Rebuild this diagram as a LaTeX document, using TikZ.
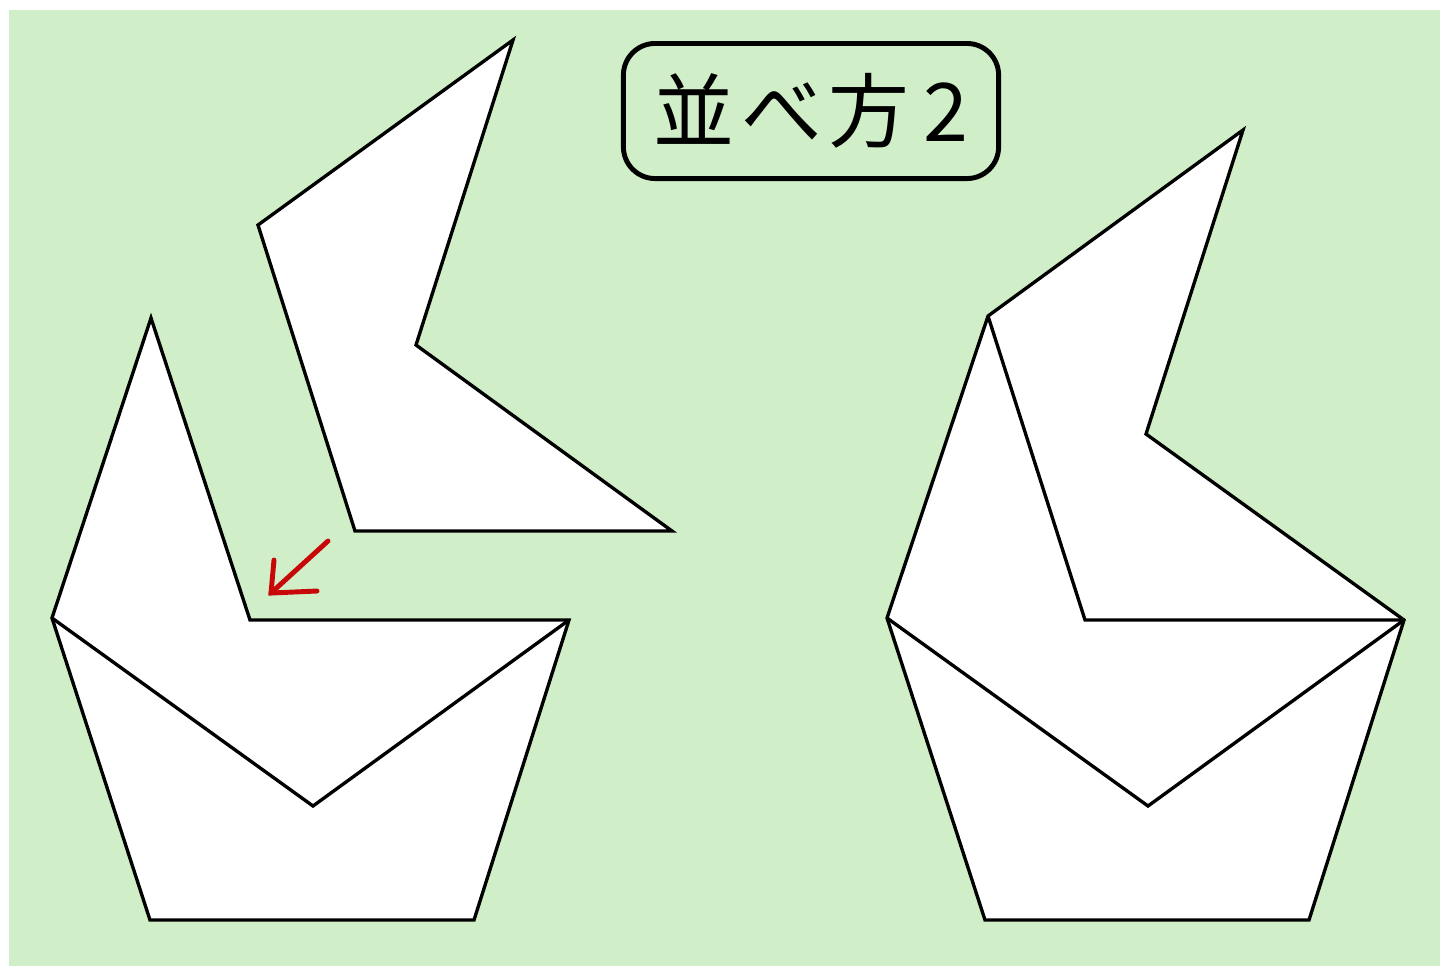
\documentclass[tikz,border=0pt]{standalone}
\usepackage{fontspec}
\newfontfamily\jpfont{Noto Sans CJK JP}[Scale=1]
\usetikzlibrary{calc}
\definecolor{fondo}{RGB}{208,238,200}
\definecolor{rojo}{RGB}{200,8,8}
\tikzset{
    pieza/.style={draw=black, fill=white, line width=0.95pt, line join=miter},
    corte/.style={draw=black, line width=0.95pt},
    titulo/.style={draw=black, line width=1.4pt, rounded corners=9pt, minimum width=3.75cm, minimum height=1.35cm, inner sep=0pt, font=\jpfont\fontsize{23}{23}\selectfont}
}

\begin{document}
\begin{tikzpicture}[x=0.01cm,y=-0.01cm]
    % Fijar los límites del dibujo y el fondo
    \useasboundingbox (0,0) rectangle (1440,966);
    \fill[white] (0,0) rectangle (1440,966);
    \fill[fondo] (9,10) rectangle (1440,966);

    % Título
    \node[titulo] (T) at (811,111) {並\hspace{2pt}べ\hspace{2pt}方\hspace{4pt}2};

    % Pieza suelta (arriba a la izquierda)
    \coordinate (A1) at (513,40);
    \coordinate (A2) at (258,225);
    \coordinate (A3) at (355,531);
    \coordinate (A4) at (672,531);
    \coordinate (A5) at (416,345);
    \draw[pieza] (A1) -- (A2) -- (A3) -- (A4) -- (A5) -- cycle;

    % Figura de la izquierda
    \coordinate (P1) at (151,318);
    \coordinate (P2) at (52,618);
    \coordinate (P3) at (150,920);
    \coordinate (P4) at (474,920);
    \coordinate (P5) at (569,620);
    \coordinate (P6) at (250,620);
    \coordinate (P7) at (313,806);
    \draw[pieza] (P1) -- (P2) -- (P3) -- (P4) -- (P5) -- (P6) -- cycle;
    \draw[corte] (P2) -- (P7) -- (P5);

    % Flecha roja hacia el hueco
    \coordinate (F1) at (328,541);
    \coordinate (F2) at (271,593);
    \coordinate (F3) at (274,560);
    \coordinate (F4) at (317,591);
    \draw[rojo, line width=1.4pt, line cap=round] (F1) -- (F2);
    \draw[rojo, line width=1.4pt, line cap=round] (F3) -- (F2) -- (F4);

    % Figura de la derecha (piezas ya colocadas)
    \coordinate (Q1) at (1243,130);
    \coordinate (Q2) at (988,316);
    \coordinate (Q3) at (887,618);
    \coordinate (Q4) at (985,920);
    \coordinate (Q5) at (1309,920);
    \coordinate (Q6) at (1404,620);
    \coordinate (Q7) at (1146,434);
    \coordinate (Q8) at (1085,620);
    \coordinate (Q9) at (1148,806);
    \draw[pieza] (Q1) -- (Q2) -- (Q3) -- (Q4) -- (Q5) -- (Q6) -- (Q7) -- cycle;
    \draw[corte] (Q2) -- (Q8) -- (Q6);
    \draw[corte] (Q3) -- (Q9) -- (Q6);

\end{tikzpicture}
\end{document}
